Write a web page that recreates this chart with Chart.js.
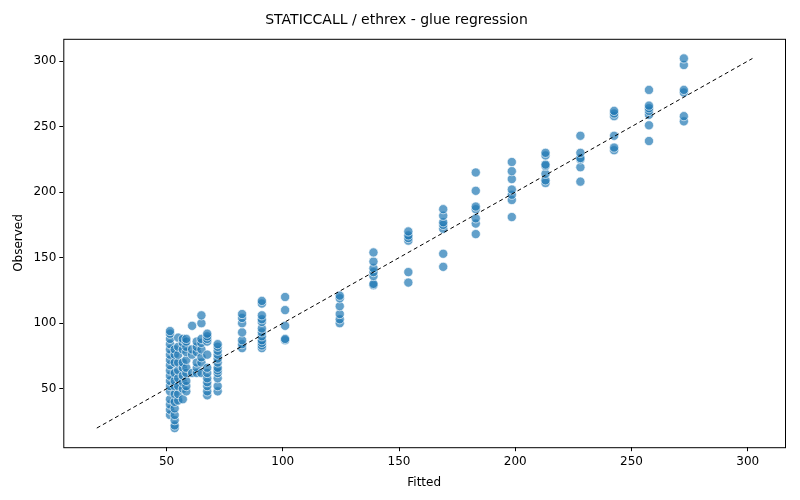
<!DOCTYPE html>
<html>
<head>
<meta charset="utf-8">
<script src="https://cdn.jsdelivr.net/npm/chart.js@4/dist/chart.umd.min.js"></script>
<style>
  body { margin: 0; background: #fff; }
  #wrap { width: 800px; height: 500px; }
</style>
</head>
<body>
<div id="wrap"><canvas id="grafico" width="800" height="500"></canvas></div>
<script>
// Fitted value of each group, and the observed values in that group
const fitted = [51.5, 53.5, 55, 57, 58.5, 61, 63, 65, 67.5, 72, 82.5, 91, 101,
                124.5, 139, 154, 169, 183, 198.5, 213, 228, 242.5, 257.5, 272.5];
const observed = [
    [30, 34, 38, 42, 48, 52, 56, 60, 64, 68, 72, 76, 80, 84, 88, 92, 94],
    [20, 22, 26, 30, 35, 40, 46, 52, 56, 62, 70, 76, 80],
    [41, 46, 52, 58, 64, 70, 76, 82, 89],
    [42, 50, 55, 60, 66, 70, 80, 85, 88],
    [48, 52, 56, 62, 66, 72, 78, 82, 86, 88],
    [62, 76, 80, 98],
    [62, 66, 70, 78, 82, 86],
    [62, 70, 74, 80, 85, 88, 100, 106],
    [45, 48, 52, 55, 58, 62, 66, 76, 86, 88, 90, 92],
    [48, 52, 58, 62, 64, 66, 70, 73, 76, 79, 82, 84],
    [81, 84, 87, 93, 100, 104, 107],
    [81, 83, 85, 87, 90, 93, 96, 101, 103, 106, 115, 117],
    [87, 88, 98, 110, 120],
    [100, 103, 107, 113, 119, 121],
    [129, 130, 136, 139, 142, 147, 154],
    [131, 139, 163, 165, 167, 170],
    [143, 153, 172, 175, 177, 182, 187],
    [168, 176, 180, 187, 189, 201, 215],
    [181, 194, 198, 202, 210, 216, 223],
    [207, 209, 214, 220, 221, 228, 230],
    [208, 219, 225, 226, 230, 243],
    [232, 234, 243, 258, 260, 262],
    [239, 251, 259, 262, 264, 266, 278],
    [254, 258, 276, 278, 297, 302]
];
const linhaIdentidade = [20, 302];
const tickVals = [50, 100, 150, 200, 250, 300];

const pontos = [];
fitted.forEach((f, i) => observed[i].forEach(o => pontos.push({ x: f, y: o })));

// Moldura completa do gráfico (estilo matplotlib)
const moldura = {
    id: 'moldura',
    afterDraw(chart) {
        const { ctx, chartArea: a } = chart;
        ctx.save();
        ctx.strokeStyle = '#000';
        ctx.lineWidth = 1;
        ctx.strokeRect(a.left + 0.5, a.top + 0.5, a.right - a.left, a.bottom - a.top);
        ctx.restore();
    }
};

function eixo(titulo, min, max) {
    return {
        type: 'linear', min: min, max: max,
        afterBuildTicks: ax => { ax.ticks = tickVals.map(v => ({ value: v })); },
        grid: { display: true, drawOnChartArea: false, drawTicks: true, tickLength: 4, color: '#000' },
        border: { display: false },
        ticks: { color: '#000', font: { family: 'DejaVu Sans', size: 12 }, padding: 3 },
        title: { display: true, text: titulo, color: '#000', font: { family: 'DejaVu Sans', size: 12 } }
    };
}

new Chart(document.getElementById('grafico').getContext('2d'), {
    type: 'scatter',
    data: {
        datasets: [{
            data: pontos,
            backgroundColor: 'rgba(31, 119, 180, 0.7)',
            borderColor: 'rgba(255, 255, 255, 0.8)',
            borderWidth: 0.8,
            pointRadius: 4.6,
            order: 2
        }, {
            type: 'line',
            data: linhaIdentidade.map(v => ({ x: v, y: v })),
            borderColor: '#000',
            borderWidth: 1,
            borderDash: [4, 3],
            pointRadius: 0,
            fill: false,
            order: 1
        }]
    },
    options: {
        responsive: false,
        animation: false,
        layout: { padding: { left: 8, right: 15, top: 4, bottom: 6 } },
        plugins: {
            legend: { display: false },
            tooltip: { enabled: false },
            title: {
                display: true, text: 'STATICCALL / ethrex - glue regression', color: '#000',
                font: { family: 'DejaVu Sans', size: 14, weight: 'normal' },
                padding: { top: 8, bottom: 10 }
            }
        },
        scales: {
            x: eixo('Fitted', 5.6, 316),
            y: eixo('Observed', 5.4, 317)
        }
    },
    plugins: [moldura]
});
</script>
</body>
</html>
